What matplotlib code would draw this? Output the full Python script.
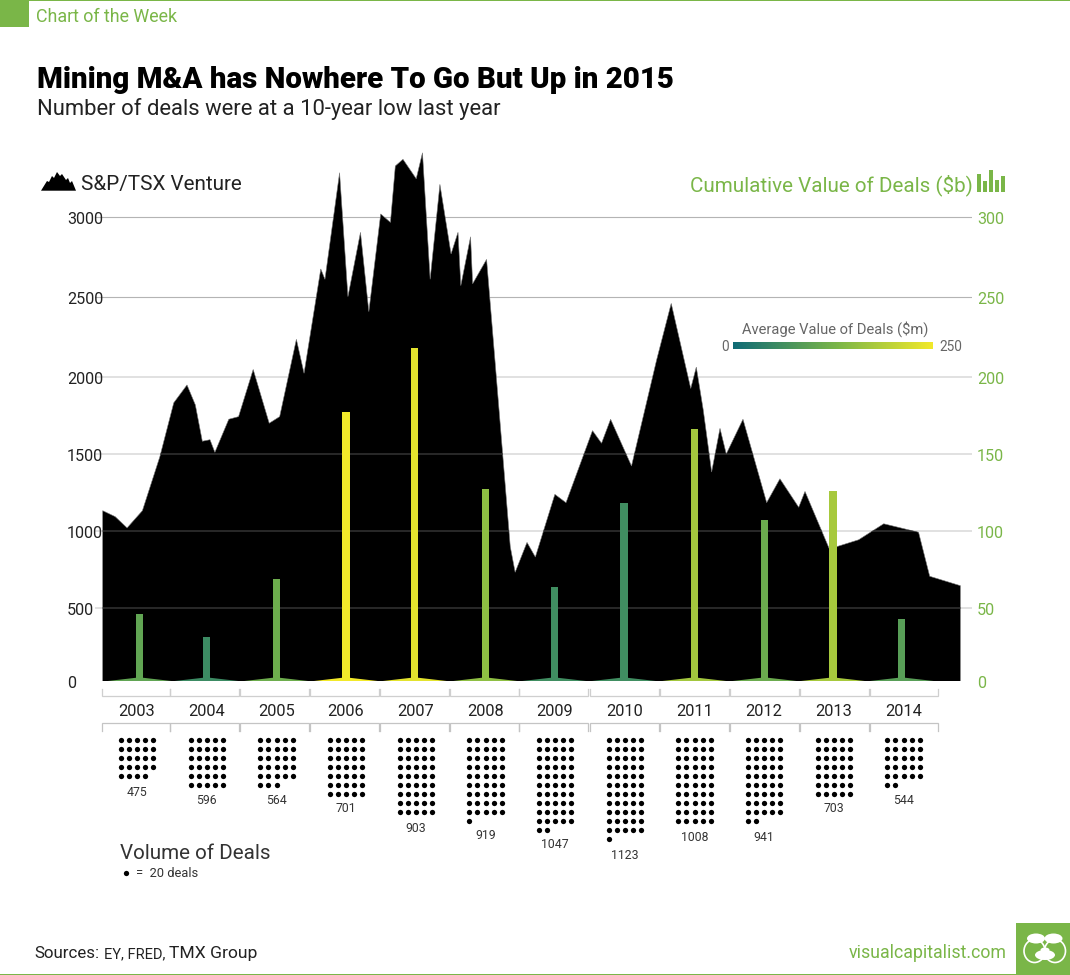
import numpy as np
import matplotlib
matplotlib.use("Agg")
import matplotlib.pyplot as plt
from matplotlib.colors import LinearSegmentedColormap
from matplotlib.patches import Rectangle, Polygon, Ellipse
from matplotlib.transforms import ScaledTranslation

plt.rcParams['font.family'] = ['Roboto', 'DejaVu Sans']

# ---------- data ----------
years = [2003, 2004, 2005, 2006, 2007, 2008, 2009, 2010, 2011, 2012, 2013, 2014]
index_time = [2003.00, 2003.18, 2003.35, 2003.57, 2003.82, 2004.02, 2004.21, 2004.33, 2004.43, 2004.54,
              2004.61, 2004.81, 2004.95, 2005.16, 2005.39, 2005.54, 2005.78, 2005.89, 2006.13, 2006.19,
              2006.40, 2006.52, 2006.70, 2006.82, 2006.99, 2007.13, 2007.20, 2007.31, 2007.50, 2007.59,
              2007.70, 2007.84, 2008.00, 2008.10, 2008.14, 2008.28, 2008.31, 2008.51, 2008.63, 2008.74,
              2008.85, 2008.92, 2009.09, 2009.21, 2009.49, 2009.65, 2010.03, 2010.16, 2010.29, 2010.59,
              2010.95, 2011.16, 2011.44, 2011.52, 2011.62, 2011.74, 2011.86, 2011.95, 2012.19, 2012.53,
              2012.72, 2012.99, 2013.08, 2013.43, 2013.54, 2013.85, 2014.21, 2014.71, 2014.87, 2015.31]
index_value = [1130, 1091, 1018, 1130, 1480, 1831, 1947, 1817, 1581, 1591,
               1509, 1724, 1741, 2046, 1698, 1741, 2235, 2022, 2676, 2611,
               3280, 2502, 2906, 2408, 3021, 2968, 3322, 3364, 3242, 3405,
               2611, 3207, 2770, 2906, 2571, 2878, 2583, 2736, 2105, 1503,
               896, 730, 924, 829, 1236, 1182, 1650, 1568, 1724, 1420,
               2105, 2460, 1924, 2061, 1784, 1381, 1665, 1498, 1724, 1182,
               1337, 1152, 1255, 881, 897, 941, 1045, 990, 704, 643]
deal_value = [45.5, 30, 68.4, 177, 218, 127, 63.6, 118, 166, 107, 126, 42]
avg_value = [100, 55, 115, 250, 235, 150, 60, 60, 170, 112, 175, 88]
deal_volume = [475, 596, 564, 701, 903, 919, 1047, 1123, 1008, 941, 703, 544]
bar_pos = [2003.53, 2004.49, 2005.49, 2006.49, 2007.48, 2008.49,
           2009.48, 2010.48, 2011.49, 2012.50, 2013.48, 2014.47]
bracket_start = [2002.986, 2003.966, 2004.97, 2005.975, 2006.98, 2007.985,
                 2008.98, 2009.994, 2011.0, 2012.004, 2013.01, 2014.01]
label_gap = [15.7, 14, 14, 13.7, 15.4, 13.4, 14, 15.4, 15.4, 15.4, 13.7, 14]
left_ticks = [0, 500, 1000, 1500, 2000, 2500, 3000]
right_ticks = [0, 50, 100, 150, 200, 250, 300]
tick_heights = [0, 73.6, 150.6, 227.6, 304.5, 384.3, 464]   # uneven spacing of the source's axis

GREEN = '#7ab648'
W, H = 1070, 975
cmap = LinearSegmentedColormap.from_list('avg', [(0, '#0f6b76'), (0.52, '#7ab648'), (1, '#f2e92a')])

fig = plt.figure(figsize=(W / 100, H / 100), dpi=100, facecolor='white')
label_shift = ScaledTranslation(0, -1 / 100, fig.dpi_scale_trans)   # one pixel down

# ---------- main axes ----------
ax_left, ax_right, ax_base, ax_top = 95, 972, 681.3, 121.7
pos = [ax_left / W, 1 - ax_base / H, (ax_right - ax_left) / W, (ax_base - ax_top) / H]
ax = fig.add_axes(pos)

anchors_v = np.array(left_ticks + [3600], float)
anchors_h = np.array(tick_heights + [559.6], float)


def fwd(v):
    return np.interp(v, anchors_v, anchors_h)


def inv(h):
    return np.interp(h, anchors_h, anchors_v)


ax.set_yscale('function', functions=(fwd, inv))
ax.set_ylim(0, 3600)
ax.set_xlim(2002.8895, 2015.477)
for s in ax.spines.values():
    s.set_visible(False)
ax.set_xticks([])
ax.set_yticks(left_ticks)
ax.set_yticklabels([str(t) for t in left_ticks], ha='left', color='#222222', fontsize=11.6)
ax.tick_params(axis='y', length=0, pad=20.2)
for lab in ax.get_yticklabels():
    lab.set_transform(lab.get_transform() + label_shift)

for t in left_ticks[1:]:
    ax.axhline(t, color='#b4b4b4' if t >= 2500 else '#d9d9d9', lw=0.8 if t >= 2500 else 1.1, zorder=1)

area = ax.fill(np.r_[index_time[0], index_time, index_time[-1]], np.r_[0, index_value, 0],
               facecolor='black', edgecolor='#777777', lw=0.4, zorder=2)[0]
for t in [500, 1000, 1500]:
    ln = ax.axhline(t, color='#333333', lw=1.1, zorder=3)
    ln.set_clip_path(area)

# ---------- value bars on the right axis ----------
ax2 = ax.twinx()
ax2.set_yscale('function', functions=(lambda v: fwd(np.asarray(v) * 10), lambda h: inv(h) / 10))
ax2.set_ylim(0, 360)
for s in ax2.spines.values():
    s.set_visible(False)
ax2.set_yticks(right_ticks)
ax2.set_yticklabels([str(t) for t in right_ticks], ha='left', color=GREEN, fontsize=11.6)
ax2.tick_params(axis='y', length=0, pad=3.6)
for lab in ax2.get_yticklabels():
    lab.set_transform(lab.get_transform() + label_shift)
bar_w = 0.105
for p, v, a in zip(bar_pos, deal_value, avg_value):
    c = cmap(a / 250)
    ax2.bar(p, v, width=bar_w, color=c, zorder=4)
    ax2.fill([p - 0.495, p - bar_w / 2, p + bar_w / 2, p + 0.495], [0, 2.4, 2.4, 0], color=c, lw=0, zorder=4)

# ---------- lower panel: brackets, years, dots ----------
low_top, low_bot = 683, 890
ax3 = fig.add_axes([ax_left / W, 1 - low_bot / H, (ax_right - ax_left) / W, (low_bot - low_top) / H])
ax3.set_xlim(ax.get_xlim())
ax3.set_ylim(low_bot, low_top)
ax3.axis('off')
brk_w = 0.986
for s in bracket_start:
    ax3.plot([s, s, s + brk_w, s + brk_w], [689, 696, 696, 689], color='#cfcfcf', lw=0.9, solid_joinstyle='miter')
    ax3.plot([s, s, s + brk_w, s + brk_w], [730.7, 723.3, 723.3, 730.7], color='#c4c4c4', lw=0.9, solid_joinstyle='miter')

COLS, ROW_H, COL_W_PX, FIRST = 5, 9.0, 8.1, 740.3
px_per_year = 69.67
for i, (yr, vol, gap) in enumerate(zip(years, deal_volume, label_gap)):
    cx = yr + 0.49
    ax3.text(cx, 711, str(yr), ha='center', va='center', fontsize=11.8, color='#222222')
    n = int(round(vol / 20))
    idx = np.arange(n)
    xs = cx + (idx % COLS - 2) * COL_W_PX / px_per_year + 0.005
    ys = FIRST + (idx // COLS) * ROW_H
    ax3.scatter(xs, ys, s=14.5, color='black', linewidths=0, clip_on=False)
    ax3.text(cx, ys.max() + gap + 0.7, str(vol), ha='center', va='center', fontsize=8.8, color='#333333')

# ---------- overlay: titles, legend, decoration ----------
ov = fig.add_axes([0, 0, 1, 1], facecolor='none')
ov.set_xlim(0, W)
ov.set_ylim(H, 0)
ov.axis('off')
renderer = fig.canvas.get_renderer()


def fit_text(x, y, s, width, size=12, **kw):
    t = ov.text(x, y, s, fontsize=size, va='baseline', ha='left', **kw)
    w = t.get_window_extent(renderer).width
    t.set_fontsize(size * width / w)
    return t


ov.add_patch(Rectangle((0, 0), W, 1.2, color=GREEN, lw=0))
ov.add_patch(Rectangle((0, 0), 29.3, 26.7, color=GREEN, lw=0))
ov.add_patch(Rectangle((0, 973.6), W, 1.4, color=GREEN, lw=0))
ov.add_patch(Rectangle((1016, 922.7), 54, 52.3, color=GREEN, lw=0))

fit_text(36.5, 21.7, 'Chart of the Week', 142, color=GREEN)
fit_text(37, 88.5, 'Mining M&A has Nowhere To Go But Up in 2015', 635, color='black', fontweight=900)
fit_text(37, 115, 'Number of deals were at a 10-year low last year', 464, color='#222222')
fit_text(81, 190, 'S&P/TSX Venture', 160, color='#222222')
fit_text(690, 191, 'Cumulative Value of Deals ($b)', 283, color=GREEN)
fit_text(742, 333.3, 'Average Value of Deals ($m)', 186, color='#666666')
ov.text(721.5, 350.7, '0', fontsize=9.8, color='#666666', va='baseline', ha='left')
ov.text(939, 350.7, '250', fontsize=9.8, color='#666666', va='baseline', ha='left')
fit_text(120.5, 859.3, 'Volume of Deals', 151, color='#333333')
fit_text(136, 877.3, '=  20 deals', 62, color='#333333')
fit_text(34, 958, 'Sources:', 65, color='#222222')
fit_text(104, 958, 'EY, FRED,', 61, color='#222222')
fit_text(169, 958, 'TMX Group', 88, color='#222222')
fit_text(849, 958.3, 'visualcapitalist.com', 157, color=GREEN)
ov.scatter([125.7], [873], s=14.5, color='black', linewidths=0)

# S&P mountain icon
ov.add_patch(Polygon([(41, 190.7), (47, 181), (49, 182), (52, 176), (54, 178), (57, 172), (60, 176), (62, 174),
                      (66, 180), (68, 178), (70, 183), (72, 181), (76, 190.7)], closed=True, color='black', lw=0))
# value-of-deals bars icon
for bx, top in [(979, 174), (984.6, 180.7), (990.7, 170), (996.8, 180), (1003, 176)]:
    ov.add_patch(Rectangle((bx - 1.9, top), 3.8, 191.7 - top, color=GREEN, lw=0))

# logo
for ex in (1034.5, 1055):
    ov.add_patch(Ellipse((ex, 951), 21, 23, facecolor='none', edgecolor='white', lw=1.2))
for ex in (1036, 1053.5):
    ov.add_patch(Ellipse((ex, 938.5), 18, 10, facecolor='white', lw=0))
ov.add_patch(Ellipse((1045, 955), 20, 10, facecolor='white', lw=0))
ov.add_patch(Ellipse((1045, 950), 9, 5, facecolor='white', lw=0))

# average-value colour ramp
ax_cb = fig.add_axes([733 / W, 1 - 349 / H, 200 / W, 7.3 / H])
ax_cb.imshow(np.linspace(0, 250, 256)[None, :], aspect='auto', cmap=cmap, vmin=0, vmax=250)
ax_cb.axis('off')

fig.savefig('out.png', dpi=100)
